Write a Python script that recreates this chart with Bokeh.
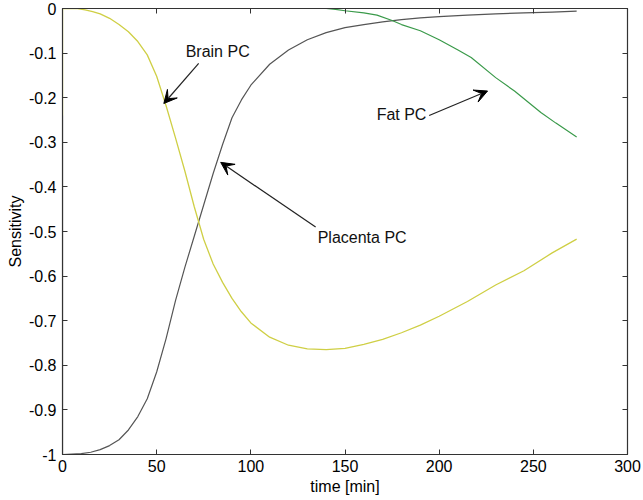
from bokeh.plotting import figure
from bokeh.models import (Range1d, LinearAxis, FixedTicker, CustomJSTickFormatter,
                          Arrow, VeeHead, Label)
from bokeh.embed import file_html
from bokeh.resources import INLINE

# ---- data ----
t_placenta = [0, 0, 5, 10, 15, 20, 25, 30, 35, 40, 45, 50, 55, 60, 65, 70, 75, 80, 85, 90, 95,
              100, 110, 120, 130, 140, 150, 160, 170, 180, 190, 200, 215, 230, 245, 260, 273]
placenta_pc = [-0.24, -1.0, -0.999, -0.998, -0.995, -0.989, -0.98, -0.967, -0.945, -0.915, -0.875,
               -0.815, -0.74, -0.655, -0.58, -0.51, -0.44, -0.37, -0.305, -0.245, -0.205,
               -0.172, -0.125, -0.093, -0.07, -0.054, -0.043, -0.036, -0.03, -0.025, -0.021,
               -0.018, -0.015, -0.012, -0.01, -0.008, -0.006]

t_brain = [0, 0, 5, 8, 12, 16, 20, 25, 30, 35, 40, 45, 50, 55, 60, 65, 70, 75, 80, 85, 90, 95,
           100, 110, 120, 130, 140, 150, 160, 170, 180, 190, 200, 215, 230, 245, 260, 273]
brain_pc = [-0.24, 0.0, 0.0, 0.0, -0.003, -0.007, -0.012, -0.022, -0.036, -0.052, -0.074, -0.104,
            -0.152, -0.218, -0.29, -0.365, -0.445, -0.518, -0.573, -0.614, -0.65, -0.68,
            -0.705, -0.737, -0.755, -0.763, -0.765, -0.762, -0.753, -0.742, -0.727, -0.71,
            -0.69, -0.657, -0.62, -0.588, -0.548, -0.517]

t_fat = [0, 140, 145, 150, 160, 167, 175, 180, 190, 200, 210, 217, 230, 240, 254, 262, 273]
fat_pc = [0.0, 0.0, -0.002, -0.005, -0.01, -0.015, -0.027, -0.036, -0.05, -0.07, -0.093,
          -0.11, -0.155, -0.185, -0.233, -0.257, -0.288]

x_ticks = [0, 50, 100, 150, 200, 250, 300]
y_ticks = [-1.0, -0.9, -0.8, -0.7, -0.6, -0.5, -0.4, -0.3, -0.2, -0.1, 0.0]

FONT = "Liberation Sans"
AXC = "#333333"

p = figure(width=643, height=500, output_backend="svg", toolbar_location=None,
           x_range=Range1d(0, 300), y_range=Range1d(-1, 0),
           min_border_left=62, min_border_right=16, min_border_top=8, min_border_bottom=46)
p.grid.visible = False
p.outline_line_color = AXC
p.outline_line_width = 1.2
p.background_fill_color = "white"
p.border_fill_color = "white"

fmt = CustomJSTickFormatter(code="return tick.toFixed(1).replace(/\\.0$/, '');")

for ax in [p.xaxis[0], p.yaxis[0]]:
    ax.major_tick_in = 5
    ax.major_tick_out = 0
    ax.minor_tick_line_color = None
    ax.axis_line_color = AXC
    ax.major_tick_line_color = AXC
    ax.major_label_text_font = FONT
    ax.major_label_text_font_size = "16px"
    ax.major_label_text_color = "black"
    ax.axis_label_text_font = FONT
    ax.axis_label_text_font_size = "16px"
    ax.axis_label_text_font_style = "normal"
    ax.axis_label_text_color = "black"

p.xaxis.ticker = FixedTicker(ticks=x_ticks)
p.yaxis.ticker = FixedTicker(ticks=y_ticks)
p.yaxis.formatter = fmt
p.xaxis.axis_label = "time [min]"
p.yaxis.axis_label = "Sensitivity"
p.xaxis.major_label_standoff = 5
p.xaxis.axis_label_standoff = 3
p.yaxis.major_label_standoff = 6
p.yaxis.axis_label_standoff = 2

# mirrored tick marks on top and right (MATLAB box style)
for loc, tks in [("above", x_ticks), ("right", y_ticks)]:
    a = LinearAxis(ticker=FixedTicker(ticks=tks), major_tick_in=5, major_tick_out=0,
                   minor_tick_line_color=None, major_label_text_font_size="0px",
                   major_label_standoff=0, axis_line_color=AXC, major_tick_line_color=AXC)
    p.add_layout(a, loc)

p.line(t_placenta, placenta_pc, line_color="#555555", line_width=1.2)
p.line(t_fat, fat_pc, line_color="#3a9a4a", line_width=1.2)
p.line(t_brain, brain_pc, line_color="#cfcf45", line_width=1.3)

# annotations
def arrow(x0, y0, x1, y1):
    p.add_layout(Arrow(x_start=x0, y_start=y0, x_end=x1, y_end=y1, line_color="#222222",
                       line_width=1.2,
                       end=VeeHead(size=13, fill_color="black", line_color="black")))

arrow(72.3, -0.123, 53.8, -0.213)
arrow(134.4, -0.49, 84.0, -0.345)
arrow(194.7, -0.24, 225.7, -0.185)

for txt, x, y in [("Brain PC", 65.4, -0.096), ("Placenta PC", 135.5, -0.513), ("Fat PC", 166.8, -0.238)]:
    p.add_layout(Label(x=x, y=y, text=txt, text_font=FONT, text_font_size="16px",
                       text_baseline="middle", text_align="left", text_color="#111111"))

open("out.html", "w").write(file_html(p, INLINE))
